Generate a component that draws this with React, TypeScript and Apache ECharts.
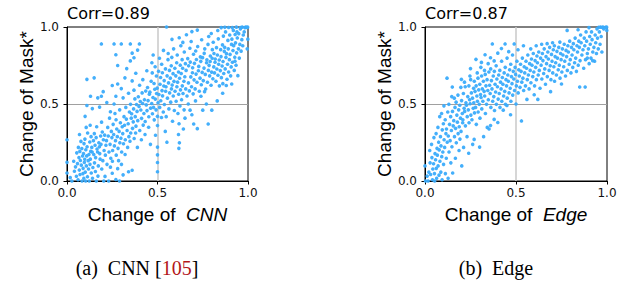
import React, { useEffect, useRef } from "react";
import * as echarts from "echarts";

const titles = ["Corr=0.89", "Corr=0.87"];
const xNameItalic = ["CNN", "Edge"];
const yName = "Change of Mask*";
const axisMin = 0;
const axisMax = 1;
const axisInterval = 0.5;

const cnnPoints: number[][] = [
[0.000,0.052],[0.000,0.121],[0.000,0.268],[0.018,0.022],[0.027,0.000],[0.041,0.063],[0.037,0.128],[0.052,0.031],[0.047,0.092],[0.054,0.183],[0.061,0.008],[0.058,0.113],[0.063,0.218],[0.066,0.152],[0.072,0.042],[0.068,0.071],[0.074,0.133],[0.071,0.192],[0.077,0.257],[0.069,0.302],[0.083,0.000],[0.079,0.103],[0.086,0.162],[0.082,0.211],[0.088,0.048],[0.093,0.018],[0.089,0.082],[0.096,0.121],[0.091,0.178],[0.094,0.243],[0.098,0.141],[0.103,0.000],[0.101,0.058],[0.107,0.098],[0.104,0.203],[0.099,0.272],[0.106,0.348],[0.109,0.163],[0.113,0.028],[0.117,0.132],[0.111,0.222],[0.114,0.312],[0.119,0.078],[0.123,0.000],[0.127,0.108],[0.121,0.172],[0.126,0.253],[0.131,0.192],[0.134,0.052],[0.129,0.142],[0.137,0.218],[0.133,0.288],[0.128,0.362],[0.143,0.088],[0.139,0.188],[0.146,0.262],[0.141,0.018],[0.152,0.118],[0.148,0.172],[0.155,0.232],[0.151,0.308],[0.157,0.062],[0.162,0.000],[0.158,0.152],[0.166,0.208],[0.161,0.282],[0.164,0.352],[0.173,0.098],[0.169,0.188],[0.176,0.248],[0.171,0.032],[0.183,0.142],[0.179,0.222],[0.186,0.292],[0.181,0.178],[0.192,0.078],[0.188,0.238],[0.195,0.318],[0.191,0.382],[0.203,0.000],[0.198,0.132],[0.205,0.198],[0.201,0.268],
[0.21,0.03],[0.23,0.00],[0.25,0.05],[0.27,0.01],[0.29,0.00],[0.31,0.04],[0.34,0.06],[0.36,0.07],[0.24,0.09],[0.28,0.08],
[0.212,0.168],[0.208,0.298],[0.215,0.232],[0.221,0.108],[0.218,0.262],[0.225,0.348],[0.232,0.188],[0.228,0.292],[0.235,0.408],[0.242,0.148],[0.238,0.238],[0.245,0.322],[0.252,0.198],[0.248,0.282],[0.255,0.368],[0.251,0.128],[0.262,0.228],[0.258,0.302],[0.265,0.438],[0.272,0.168],[0.268,0.262],[0.275,0.338],[0.271,0.398],[0.282,0.212],[0.278,0.288],[0.285,0.132],[0.292,0.248],[0.288,0.322],[0.295,0.378],[0.291,0.462],[0.302,0.188],[0.298,0.278],[0.305,0.352],[0.301,0.108],[0.312,0.242],[0.308,0.308],[0.315,0.418],[0.322,0.268],[0.318,0.362],[0.325,0.478],[0.321,0.172],[0.332,0.328],[0.328,0.402],[0.335,0.218],[0.342,0.288],[0.338,0.372],[0.345,0.448],[0.352,0.312],[0.348,0.258],[0.355,0.408],[0.351,0.498],
[0.11,0.49],[0.10,0.42],[0.11,0.66],[0.15,0.67],[0.13,0.55],[0.17,0.54],[0.19,0.55],[0.20,0.58],[0.18,0.48],[0.14,0.47],[0.19,0.89],[0.26,0.89],[0.30,0.89],[0.35,0.89],[0.40,0.89],[0.25,0.62],[0.28,0.63],[0.26,0.50],[0.22,0.51],[0.24,0.45],[0.27,0.55],[0.30,0.60],[0.31,0.54],[0.28,0.75],[0.27,0.82],[0.33,0.73],[0.35,0.78],[0.37,0.80],[0.32,0.67],[0.36,0.65],[0.38,0.70],[0.39,0.85],[0.36,0.83],[0.37,0.59],[0.34,0.57],
[0.362,0.342],[0.357,0.437],[0.366,0.384],[0.371,0.276],[0.368,0.468],[0.375,0.533],[0.381,0.356],[0.377,0.418],[0.384,0.497],[0.379,0.312],[0.391,0.392],[0.387,0.452],[0.394,0.547],[0.389,0.218],[0.402,0.328],[0.398,0.484],[0.405,0.516],[0.401,0.622],[0.412,0.407],[0.408,0.461],[0.415,0.572],[0.411,0.268],[0.421,0.363],[0.418,0.503],[0.425,0.438],[0.419,0.658],[0.432,0.386],[0.428,0.528],[0.435,0.584],[0.431,0.302],[0.442,0.457],[0.438,0.494],[0.445,0.607],[0.441,0.716],[0.452,0.417],[0.448,0.522],[0.455,0.563],[0.451,0.349],[0.462,0.473],[0.458,0.577],[0.465,0.648],[0.461,0.238],[0.472,0.437],[0.468,0.503],[0.475,0.542],[0.471,0.702],[0.469,0.768],[0.482,0.397],[0.478,0.478],[0.485,0.596],[0.481,0.633],[0.476,0.818],[0.492,0.462],[0.488,0.532],[0.495,0.568],[0.489,0.297],[0.494,0.682],[0.487,0.742],
[0.50,0.06],[0.50,0.12],[0.50,0.17],[0.50,0.22],[0.50,0.36],[0.50,0.42],
[0.503,0.508],[0.498,0.603],[0.512,0.478],[0.508,0.562],[0.514,0.628],[0.506,0.713],[0.511,0.797],[0.522,0.412],[0.518,0.521],[0.525,0.587],[0.517,0.672],[0.523,0.758],[0.532,0.448],[0.528,0.553],[0.535,0.617],[0.527,0.703],[0.533,0.848],[0.543,0.322],[0.538,0.497],[0.545,0.583],[0.537,0.652],[0.544,0.728],[0.552,0.252],[0.548,0.418],[0.555,0.538],[0.547,0.612],[0.553,0.683],[0.558,0.788],[0.563,0.468],[0.567,0.572],[0.561,0.637],[0.566,0.718],[0.559,0.828],[0.573,0.512],[0.577,0.598],[0.571,0.668],[0.576,0.748],[0.583,0.388],[0.587,0.552],[0.581,0.623],[0.586,0.697],[0.579,0.803],[0.593,0.458],[0.597,0.583],[0.591,0.647],[0.596,0.732],[0.589,0.858],[0.603,0.518],[0.607,0.612],[0.601,0.683],[0.606,0.768],[0.613,0.438],[0.617,0.563],[0.611,0.642],[0.616,0.708],[0.609,0.818],[0.618,0.212],[0.621,0.248],[0.616,0.302],[0.619,0.372],[0.624,0.487],[0.627,0.592],[0.622,0.667],[0.626,0.752],[0.633,0.528],[0.637,0.618],[0.631,0.698],[0.636,0.788],[0.629,0.878],[0.643,0.338],[0.647,0.462],[0.641,0.568],[0.646,0.648],[0.639,0.732],[0.652,0.408],[0.656,0.598],[0.651,0.677],[0.654,0.762],[0.648,0.838],
[0.68,0.46],[0.70,0.37],[0.72,0.34],[0.75,0.46],[0.78,0.37],[0.80,0.46],[0.67,0.50],[0.71,0.52],[0.74,0.55],[0.77,0.50],[0.83,0.52],[0.69,0.43],[0.76,0.58],[0.86,0.57],[0.88,0.62],[0.91,0.63],
[0.663,0.552],[0.671,0.637],[0.658,0.718],[0.667,0.795],[0.676,0.585],[0.684,0.676],[0.672,0.748],[0.679,0.862],[0.688,0.612],[0.693,0.703],[0.681,0.772],[0.686,0.906],[0.697,0.566],[0.702,0.657],[0.694,0.735],[0.699,0.823],[0.708,0.598],[0.713,0.694],[0.704,0.764],[0.711,0.844],[0.718,0.641],[0.726,0.716],[0.715,0.789],[0.722,0.873],[0.731,0.583],[0.735,0.668],[0.728,0.744],[0.737,0.806],[0.742,0.625],[0.747,0.705],[0.739,0.777],[0.744,0.917],[0.753,0.652],[0.757,0.733],[0.749,0.801],[0.761,0.858],[0.766,0.597],[0.764,0.692],[0.771,0.768],[0.758,0.829],[0.776,0.641],[0.781,0.718],[0.773,0.787],[0.779,0.887],[0.788,0.683],[0.785,0.751],[0.792,0.812],[0.783,0.938],[0.796,0.622],[0.799,0.707],[0.791,0.776],[0.803,0.853],[0.806,0.664],[0.811,0.741],[0.802,0.797],[0.808,0.901],[0.815,0.702],[0.818,0.771],[0.812,0.828],[0.797,0.958],
[0.823,0.648],[0.828,0.727],[0.819,0.792],[0.826,0.866],[0.834,0.687],[0.838,0.758],[0.831,0.818],[0.836,0.923],[0.842,0.618],[0.847,0.717],[0.841,0.786],[0.849,0.853],[0.833,0.977],[0.853,0.671],[0.857,0.747],[0.851,0.808],[0.859,0.884],[0.866,0.698],[0.862,0.776],[0.869,0.842],[0.864,0.941],[0.852,0.996],[0.874,0.728],[0.878,0.803],[0.871,0.868],[0.876,0.968],[0.884,0.661],[0.887,0.758],[0.881,0.827],[0.889,0.913],[0.872,0.998],[0.893,0.708],[0.897,0.788],[0.891,0.858],[0.899,0.948],[0.904,0.683],[0.907,0.741],[0.901,0.822],[0.909,0.887],[0.893,0.997],[0.914,0.771],[0.917,0.847],[0.911,0.921],[0.919,0.978],[0.924,0.718],[0.927,0.804],[0.921,0.879],[0.929,0.951],[0.913,0.996],[0.934,0.752],[0.937,0.832],[0.931,0.897],[0.939,0.968],[0.944,0.684],[0.947,0.858],[0.941,0.929],[0.936,0.999],[0.952,0.798],[0.955,0.887],[0.949,0.957],[0.958,0.988],[0.962,0.843],[0.966,0.918],[0.959,0.997],[0.971,0.878],[0.974,0.948],[0.968,0.999],[0.979,0.968],[0.983,0.996],[0.988,0.999],[0.993,0.997],[0.998,0.999],[0.996,0.858],[0.999,0.921],[0.928,0.778],[0.861,0.632],
[0.55,1.00],[0.72,0.98],[0.58,0.92],[0.62,0.93],[0.66,0.95],[0.69,0.97],[0.64,0.90]
];

const edgePoints: number[][] = [
[0.000,0.098],[0.003,0.000],[0.012,0.032],[0.021,0.058],[0.017,0.000],[0.028,0.118],[0.031,0.042],[0.026,0.198],[0.043,0.078],[0.038,0.152],[0.041,0.008],[0.036,0.238],[0.052,0.048],[0.047,0.112],[0.055,0.178],[0.049,0.282],[0.053,0.000],[0.062,0.082],[0.058,0.138],[0.066,0.212],[0.061,0.308],[0.064,0.018],[0.072,0.098],[0.068,0.168],[0.075,0.252],[0.071,0.348],[0.077,0.038],[0.082,0.128],[0.078,0.202],[0.085,0.288],[0.081,0.418],[0.087,0.058],[0.092,0.158],[0.088,0.228],[0.095,0.332],[0.091,0.438],[0.094,0.008],[0.102,0.108],[0.098,0.188],[0.105,0.268],[0.101,0.372],[0.104,0.488],
[0.112,0.048],[0.108,0.218],[0.115,0.308],[0.111,0.398],[0.117,0.148],[0.122,0.252],[0.118,0.338],[0.125,0.448],[0.121,0.668],[0.127,0.018],[0.132,0.188],[0.128,0.292],[0.135,0.368],[0.131,0.498],[0.142,0.118],[0.138,0.262],[0.145,0.328],[0.141,0.418],[0.147,0.548],[0.152,0.052],[0.148,0.222],[0.155,0.358],[0.151,0.452],[0.162,0.288],[0.158,0.392],[0.165,0.478],[0.161,0.538],[0.167,0.148],[0.172,0.248],[0.168,0.342],[0.175,0.428],[0.171,0.512],[0.182,0.308],[0.178,0.382],[0.185,0.462],[0.181,0.558],[0.187,0.198],[0.192,0.272],[0.188,0.352],[0.195,0.408],[0.191,0.492],[0.197,0.608],[0.202,0.098],[0.198,0.322],[0.205,0.438],[0.201,0.522],[0.207,0.378],
[0.212,0.218],[0.208,0.398],[0.215,0.472],[0.211,0.568],[0.217,0.642],[0.222,0.358],[0.218,0.452],[0.225,0.508],[0.221,0.612],[0.232,0.418],[0.228,0.492],[0.235,0.548],[0.231,0.288],[0.242,0.378],[0.238,0.462],[0.245,0.528],[0.241,0.618],[0.247,0.682],[0.252,0.428],[0.248,0.502],[0.255,0.572],[0.251,0.658],[0.262,0.238],[0.258,0.398],[0.265,0.472],[0.261,0.538],[0.267,0.602],[0.272,0.442],[0.268,0.508],[0.275,0.582],[0.271,0.648],[0.282,0.368],[0.278,0.478],[0.285,0.552],[0.281,0.618],[0.287,0.702],[0.292,0.448],[0.288,0.518],[0.295,0.592],[0.291,0.668],[0.302,0.408],[0.298,0.498],[0.305,0.562],[0.301,0.628],[0.307,0.738],[0.312,0.468],[0.308,0.542],[0.315,0.598],[0.311,0.682],[0.322,0.288],[0.318,0.518],[0.325,0.582],[0.321,0.648],[0.327,0.718],[0.332,0.438],[0.328,0.552],[0.335,0.618],[0.331,0.692],[0.342,0.348],[0.338,0.498],[0.345,0.588],[0.341,0.658],[0.352,0.338],[0.348,0.528],[0.355,0.622],[0.351,0.708],[0.347,0.762],
[0.20,0.66],[0.15,0.61],[0.25,0.73],[0.28,0.79],[0.31,0.77],[0.33,0.82],[0.37,0.89],[0.44,0.89],[0.49,0.89],[0.40,0.83],[0.42,0.86],[0.36,0.80],[0.38,0.78],[0.46,0.84],
[0.24,0.18],[0.27,0.27],[0.30,0.22],[0.36,0.36],[0.38,0.40],[0.40,0.38],[0.43,0.46],[0.47,0.43],[0.53,0.39],[0.45,0.49],[0.50,0.50],[0.56,0.53],[0.60,0.56],[0.62,0.53],[0.69,0.58],[0.85,0.61],[0.88,0.61],[0.75,0.63],
[0.362,0.478],[0.358,0.568],[0.365,0.652],[0.361,0.728],[0.372,0.518],[0.368,0.598],[0.375,0.682],[0.382,0.458],[0.378,0.548],[0.385,0.628],[0.381,0.712],[0.392,0.498],[0.388,0.578],[0.395,0.662],[0.391,0.748],[0.402,0.532],[0.398,0.612],[0.405,0.688],[0.412,0.478],[0.408,0.568],[0.415,0.642],[0.411,0.718],[0.422,0.518],[0.418,0.598],[0.425,0.672],[0.421,0.778],[0.432,0.552],[0.428,0.628],[0.435,0.702],[0.442,0.498],[0.438,0.582],[0.445,0.658],[0.441,0.738],[0.452,0.538],[0.448,0.618],[0.455,0.688],[0.451,0.798],[0.462,0.572],[0.458,0.648],[0.465,0.722],[0.472,0.518],[0.468,0.602],[0.475,0.678],[0.471,0.758],[0.482,0.558],[0.478,0.632],[0.485,0.712],[0.481,0.818],[0.492,0.588],[0.488,0.662],[0.495,0.738],[0.502,0.618],[0.498,0.692],[0.505,0.778],
[0.512,0.572],[0.508,0.648],[0.515,0.722],[0.511,0.852],[0.522,0.608],[0.518,0.682],[0.525,0.758],[0.532,0.642],[0.528,0.712],[0.535,0.798],[0.542,0.588],[0.538,0.668],[0.545,0.742],[0.541,0.878],[0.552,0.618],[0.548,0.702],[0.555,0.778],[0.562,0.658],[0.558,0.732],[0.565,0.818],[0.572,0.598],[0.568,0.688],[0.575,0.762],[0.582,0.638],[0.578,0.718],[0.585,0.792],[0.581,0.858],[0.592,0.678],[0.588,0.752],[0.595,0.828],[0.602,0.618],[0.598,0.708],[0.605,0.782],[0.612,0.658],[0.608,0.738],[0.615,0.812],[0.611,0.878],[0.622,0.688],[0.618,0.768],[0.625,0.838],[0.632,0.602],[0.628,0.718],[0.635,0.798],[0.642,0.662],[0.638,0.752],[0.645,0.828],[0.641,0.888],[0.652,0.698],[0.648,0.782],[0.655,0.858],[0.662,0.628],[0.658,0.728],[0.665,0.808],[0.672,0.678],[0.668,0.762],[0.675,0.838],[0.671,0.892],[0.682,0.718],[0.678,0.792],[0.685,0.868],[0.692,0.658],[0.688,0.748],[0.695,0.822],[0.702,0.702],[0.698,0.778],[0.705,0.852],[0.701,0.898],
[0.712,0.648],[0.708,0.742],[0.715,0.808],[0.711,0.878],[0.722,0.688],[0.718,0.768],[0.725,0.842],[0.732,0.722],[0.728,0.798],[0.735,0.868],[0.742,0.668],[0.738,0.752],[0.745,0.828],[0.741,0.902],[0.752,0.708],[0.748,0.788],[0.755,0.858],[0.762,0.742],[0.758,0.818],[0.765,0.888],[0.772,0.682],[0.768,0.778],[0.775,0.848],[0.782,0.718],[0.778,0.808],[0.785,0.878],[0.792,0.758],[0.788,0.838],[0.795,0.908],[0.802,0.702],[0.798,0.788],[0.805,0.868],[0.812,0.738],[0.808,0.818],[0.815,0.892],[0.822,0.768],[0.818,0.852],[0.825,0.928],[0.832,0.712],[0.828,0.798],[0.835,0.878],[0.842,0.752],[0.838,0.838],[0.845,0.908],[0.852,0.782],[0.848,0.868],[0.855,0.948],[0.862,0.818],[0.858,0.898],[0.872,0.732],[0.868,0.852],[0.875,0.928],[0.882,0.788],[0.878,0.878],[0.885,0.968],[0.892,0.828],[0.888,0.908],[0.902,0.762],[0.898,0.858],[0.905,0.938],
[0.912,0.798],[0.908,0.888],[0.915,0.968],[0.922,0.838],[0.918,0.918],[0.932,0.778],[0.928,0.868],[0.935,0.948],[0.942,0.828],[0.938,0.898],[0.945,0.988],[0.952,0.858],[0.948,0.928],[0.955,0.998],[0.962,0.888],[0.958,0.968],[0.965,0.999],[0.972,0.838],[0.968,0.938],[0.975,0.997],[0.982,0.988],[0.978,0.999],[0.992,0.998],[0.998,0.999],[0.999,0.978],[0.892,0.798],[0.921,0.782],[0.781,0.978],[0.841,0.982],[0.901,0.996]
];

const seriesData = [cnnPoints, edgePoints];
const gridLefts = [67, 425];
const gridWidths = [181, 182];
const captionCenters = [137, 496];

const tickFont = "DejaVu Sans";
const labelFont = "Liberation Sans";
const pointColor = "#3aabfb";

export default function App() {
  const ref = useRef<HTMLDivElement>(null);
  useEffect(() => {
    if (!ref.current) return;
    const chart = echarts.init(ref.current, undefined, { renderer: "svg" });
    const grids = [0, 1].map((i) => ({
      left: gridLefts[i],
      top: 27,
      width: gridWidths[i],
      height: 154,
      show: true,
      borderColor: "#000",
      borderWidth: 1,
      backgroundColor: "transparent",
    }));
    const axisCommon = {
      type: "value",
      min: axisMin,
      max: axisMax,
      interval: axisInterval,
      axisLine: { show: true, lineStyle: { color: "#000", width: 1 } },
      axisTick: { show: true, length: 3.5, lineStyle: { color: "#000" } },
    };
    const xAxes = [0, 1].map((i) => ({
      ...axisCommon,
      gridIndex: i,
      axisLabel: {
        formatter: (v: number) => v.toFixed(1),
        fontFamily: tickFont,
        fontSize: 12,
        color: "#111",
        margin: 6,
        showMinLabel: true,
        showMaxLabel: true,
      },
      splitLine: {
        show: true,
        lineStyle: { color: ["rgba(0,0,0,0)", "#c8c8c8", "rgba(0,0,0,0)"], width: 1.5 },
      },
      name: `{n|Change of  }{i|${xNameItalic[i]}}`,
      nameLocation: "middle",
      nameGap: 24,
      nameTextStyle: {
        color: "#000",
        fontSize: 19,
        fontFamily: labelFont,
        rich: {
          n: { fontSize: 19, fontFamily: labelFont, color: "#000" },
          i: { fontSize: 19, fontFamily: labelFont, fontStyle: "italic", color: "#000" },
        },
      },
    }));
    const yAxes = [0, 1].map((i) => ({
      ...axisCommon,
      gridIndex: i,
      axisLabel: {
        formatter: (v: number) => v.toFixed(1),
        fontFamily: tickFont,
        fontSize: 12,
        color: "#111",
        margin: 8,
        showMinLabel: true,
        showMaxLabel: true,
      },
      splitLine: {
        show: true,
        lineStyle: { color: ["rgba(0,0,0,0)", "#a0a0a0", "rgba(0,0,0,0)"], width: 1 },
      },
      name: yName,
      nameLocation: "middle",
      nameGap: 31,
      nameTextStyle: { color: "#000", fontSize: 19, fontFamily: labelFont },
    }));
    chart.setOption({
      animation: false,
      backgroundColor: "#fff",
      title: [0, 1].map((i) => ({
        text: titles[i],
        left: gridLefts[i],
        top: 5,
        padding: 0,
        textStyle: { fontFamily: tickFont, fontSize: 16, fontWeight: "normal", color: "#000" },
      })),
      grid: grids,
      xAxis: xAxes,
      yAxis: yAxes,
      series: [0, 1].map((i) => ({
        type: "scatter",
        xAxisIndex: i,
        yAxisIndex: i,
        data: seriesData[i],
        symbolSize: 3.6,
        itemStyle: { color: pointColor, opacity: 0.95 },
        clip: true,
        silent: true,
      })),
      graphic: [
        {
          type: "text",
          x: captionCenters[0],
          y: 268,
          style: {
            text: "{a|(a)  CNN [}{r|105}{a|]}",
            align: "center",
            verticalAlign: "middle",
            rich: {
              a: { fontFamily: "Liberation Serif", fontSize: 20, fill: "#000" },
              r: { fontFamily: "Liberation Serif", fontSize: 20, fill: "#b3161b" },
            },
          },
        },
        {
          type: "text",
          x: captionCenters[1],
          y: 268,
          style: {
            text: "(b)  Edge",
            align: "center",
            verticalAlign: "middle",
            fontFamily: "Liberation Serif",
            fontSize: 20,
            fill: "#000",
          },
        },
      ],
    });
    return () => chart.dispose();
  }, []);
  return (
    <div
      ref={ref}
      style={{ position: "absolute", left: 0, top: 0, width: 638, height: 282, background: "#fff" }}
    />
  );
}
